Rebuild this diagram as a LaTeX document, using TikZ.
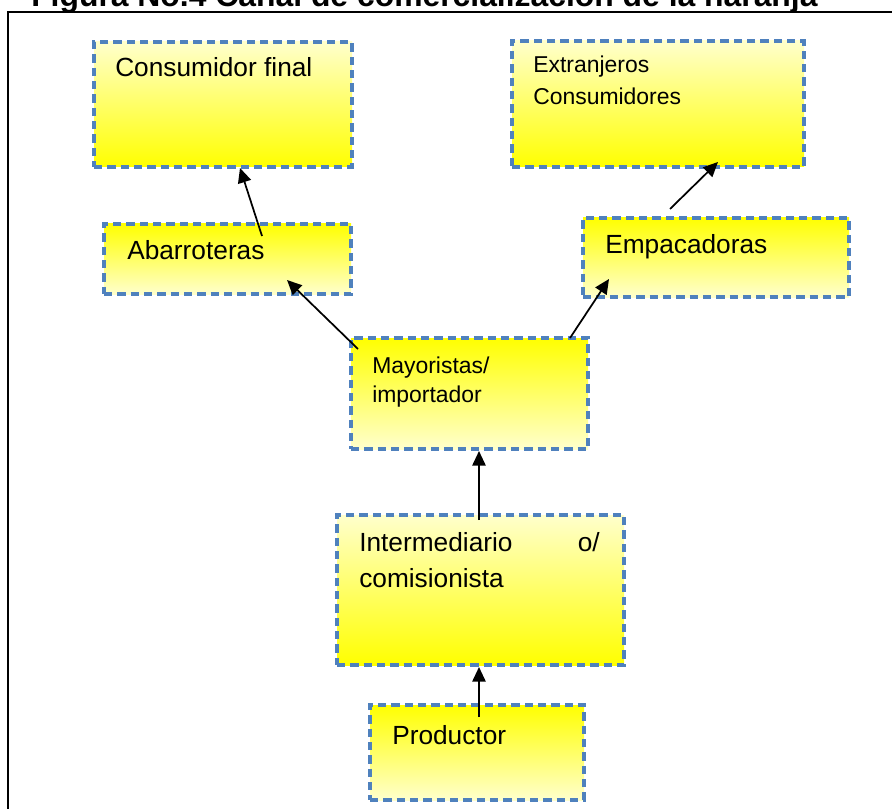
\documentclass[tikz,border=0pt]{standalone}
\usepackage{fontspec}
\setmainfont{Liberation Sans}
\usetikzlibrary{arrows.meta,calc}
\definecolor{dashblue}{HTML}{4F81BD}
\definecolor{palelt}{HTML}{FFFFCC}
\definecolor{amarillo}{HTML}{FFFF00}
\tikzset{
  caja/.style={draw=dashblue, line width=2.6pt, dash pattern=on 6.3pt off 3.7pt,
               inner sep=0pt, outer sep=0pt},
  cajaup/.style={caja, top color=palelt, bottom color=amarillo},
  cajadown/.style={caja, top color=amarillo, bottom color=palelt},
  txt/.style={anchor=base west, inner sep=0pt, font=\fontsize{19.7}{23}\selectfont},
  txtsm/.style={anchor=base west, inner sep=0pt, font=\fontsize{17.2}{21}\selectfont},
  flecha/.style={-{Triangle[length=11pt,width=10pt]}, line width=1.3pt, draw=black}
}

\begin{document}
\begin{tikzpicture}[x=0.75pt,y=-0.75pt]
  \useasboundingbox (0,0) rectangle (892,809);

  % title and frame
  \node[anchor=base west, inner sep=0pt, font=\fontsize{23.9}{28}\selectfont\bfseries] (titulo) at (31,7)
     {Figura No.4 Canal de comercialización de la naranja};
  \draw[line width=1.8pt] (8,830) -- (8,12) -- (905,12);

  % boxes
  \node[cajaup, minimum width=193.5pt, minimum height=93.75pt] (cons) at (223,104.5) {};
  \node[cajaup, minimum width=219pt, minimum height=94.5pt] (ext) at (658,104) {};
  \node[cajadown, minimum width=185.25pt, minimum height=52.5pt] (abarr) at (227.5,259) {};
  \node[cajadown, minimum width=199.5pt, minimum height=59.25pt] (emp) at (716,257.5) {};
  \node[cajadown, minimum width=177.75pt, minimum height=83.25pt] (mayor) at (469.5,393.5) {};
  \node[cajaup, minimum width=215.25pt, minimum height=112.5pt] (inter) at (480.5,590) {};
  \node[cajadown, minimum width=160.5pt, minimum height=71.25pt] (prod) at (477,752.5) {};

  % texts
  \node[txt] (consT) at (115,77) {Consumidor final};
  \node[txtsm] (extA) at (533,73) {Extranjeros};
  \node[txtsm] (extB) at (533,105) {Consumidores};
  \node[txt] (abarrT) at (127,260) {Abarroteras};
  \node[txt] (empT) at (605,253) {Empacadoras};
  \node[txtsm] (mayorA) at (372,373) {Mayoristas/};
  \node[txtsm] (mayorB) at (372,402) {importador};
  \node[txt] (interA) at (359,551) {Intermediario};
  \node[txt, anchor=base east] (interO) at (600,551) {o/};
  \node[txt] (interB) at (359,587) {comisionista};
  \node[txt] (prodT) at (392,744) {Productor};

  % connectors
  \draw[flecha] ($(abarr.north)+(34.5,12)$) -- ($(cons.south)+(17,1)$);
  \draw[flecha] ($(mayor.north west)+(7,11)$) -- ($(abarr.south)+(59.5,-14)$);
  \draw[flecha] ($(mayor.north east)+(-18,0)$) -- ($(emp.south west)+(26,-18)$);
  \draw[flecha] ($(emp.north)+(-46,-9)$) -- ($(ext.south)+(60,-5)$);
  \draw[flecha] ($(inter.north)+(-1.5,5)$) -- ($(mayor.south)+(9.5,2)$);
  \draw[flecha] ($(prod.north)+(2,12)$) -- ($(inter.south)+(-1.5,2)$);
\end{tikzpicture}
\end{document}
